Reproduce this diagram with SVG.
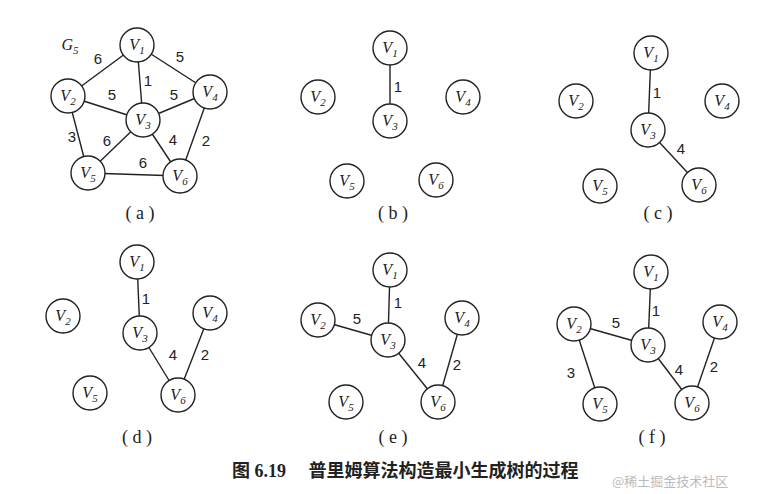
<svg xmlns="http://www.w3.org/2000/svg" width="765" height="494" viewBox="0 0 765 494">
<style>
.n{fill:#fff;stroke:#222;stroke-width:1.4}
.e{stroke:#222;stroke-width:1.4}
.t{font-family:"Liberation Serif",serif;font-style:italic;font-size:16px;fill:#222;text-anchor:middle}
.s{font-size:11px}
.w{font-family:"Liberation Sans",sans-serif;font-size:15px;fill:#222;text-anchor:middle}
.c{font-family:"Liberation Serif",serif;font-size:18px;fill:#222;text-anchor:middle}
.cap{font-family:"Liberation Serif","Noto Sans CJK SC",serif;font-size:18px;font-weight:bold;fill:#222}
</style>
<rect width="765" height="494" fill="#fff"/>
<defs><circle id="c" r="17" class="n"/></defs>
<g id="connectors">
<line class="e" x1="137" y1="45" x2="68" y2="96"/><line class="e" x1="137" y1="45" x2="210" y2="92"/>
<line class="e" x1="137" y1="45" x2="143" y2="120"/><line class="e" x1="68" y1="96" x2="143" y2="120"/>
<line class="e" x1="143" y1="120" x2="210" y2="92"/><line class="e" x1="68" y1="96" x2="88" y2="173"/>
<line class="e" x1="143" y1="120" x2="88" y2="173"/><line class="e" x1="143" y1="120" x2="180" y2="176"/>
<line class="e" x1="210" y1="92" x2="180" y2="176"/><line class="e" x1="88" y1="173" x2="180" y2="176"/>
<line class="e" x1="390" y1="48" x2="390" y2="121"/>
<line class="e" x1="651" y1="53" x2="648" y2="130"/><line class="e" x1="648" y1="130" x2="699" y2="185"/>
<line class="e" x1="137" y1="262" x2="140" y2="333"/><line class="e" x1="140" y1="333" x2="178" y2="395"/><line class="e" x1="210" y1="313" x2="178" y2="395"/>
<line class="e" x1="390" y1="270" x2="388" y2="340"/><line class="e" x1="318" y1="320" x2="388" y2="340"/><line class="e" x1="388" y1="340" x2="438" y2="402"/><line class="e" x1="462" y1="318" x2="438" y2="402"/>
<line class="e" x1="651" y1="272" x2="648" y2="345"/><line class="e" x1="574" y1="324" x2="648" y2="345"/><line class="e" x1="648" y1="345" x2="692" y2="403"/><line class="e" x1="720" y1="322" x2="692" y2="403"/><line class="e" x1="574" y1="324" x2="600" y2="404"/>
</g>
<g id="weights">
<text class="w" x="98" y="64">6</text><text class="w" x="180" y="62">5</text><text class="w" x="148" y="86">1</text>
<text class="w" x="112" y="100">5</text><text class="w" x="174" y="100">5</text><text class="w" x="72" y="142">3</text>
<text class="w" x="107" y="146">6</text><text class="w" x="173" y="145">4</text><text class="w" x="206" y="146">2</text><text class="w" x="143" y="168">6</text>
<text class="w" x="398" y="92">1</text>
<text class="w" x="657" y="98">1</text><text class="w" x="681" y="154">4</text>
<text class="w" x="146" y="304">1</text><text class="w" x="173" y="360">4</text><text class="w" x="205" y="360">2</text>
<text class="w" x="398" y="308">1</text><text class="w" x="357" y="324">5</text><text class="w" x="422" y="368">4</text><text class="w" x="457" y="370">2</text>
<text class="w" x="656" y="316">1</text><text class="w" x="616" y="328">5</text><text class="w" x="679" y="375">4</text><text class="w" x="714" y="372">2</text><text class="w" x="571" y="378">3</text>
</g>
<text class="t" x="70" y="50">G<tspan class="s" dy="4">5</tspan></text>
<g id="a">
<g id="a1"><use href="#c" x="137" y="45"/><text class="t" x="137" y="50">V<tspan class="s" dy="4">1</tspan></text></g>
<g id="a2"><use href="#c" x="68" y="96"/><text class="t" x="68" y="101">V<tspan class="s" dy="4">2</tspan></text></g>
<g id="a3"><use href="#c" x="143" y="120"/><text class="t" x="143" y="125">V<tspan class="s" dy="4">3</tspan></text></g>
<g id="a4"><use href="#c" x="210" y="92"/><text class="t" x="210" y="97">V<tspan class="s" dy="4">4</tspan></text></g>
<g id="a5"><use href="#c" x="88" y="173"/><text class="t" x="88" y="178">V<tspan class="s" dy="4">5</tspan></text></g>
<g id="a6"><use href="#c" x="180" y="176"/><text class="t" x="180" y="181">V<tspan class="s" dy="4">6</tspan></text></g>
<text class="c" x="140" y="219">( a )</text>
</g>
<g id="b">
<g id="b1"><use href="#c" x="390" y="48"/><text class="t" x="390" y="53">V<tspan class="s" dy="4">1</tspan></text></g>
<g id="b2"><use href="#c" x="318" y="97"/><text class="t" x="318" y="102">V<tspan class="s" dy="4">2</tspan></text></g>
<g id="b3"><use href="#c" x="390" y="121"/><text class="t" x="390" y="126">V<tspan class="s" dy="4">3</tspan></text></g>
<g id="b4"><use href="#c" x="463" y="97"/><text class="t" x="463" y="102">V<tspan class="s" dy="4">4</tspan></text></g>
<g id="b5"><use href="#c" x="347" y="181"/><text class="t" x="347" y="186">V<tspan class="s" dy="4">5</tspan></text></g>
<g id="b6"><use href="#c" x="436" y="180"/><text class="t" x="436" y="185">V<tspan class="s" dy="4">6</tspan></text></g>
<text class="c" x="393" y="219">( b )</text>
</g>
<g id="c_">
<g id="c1"><use href="#c" x="651" y="53"/><text class="t" x="651" y="58">V<tspan class="s" dy="4">1</tspan></text></g>
<g id="c2"><use href="#c" x="576" y="101"/><text class="t" x="576" y="106">V<tspan class="s" dy="4">2</tspan></text></g>
<g id="c3"><use href="#c" x="648" y="130"/><text class="t" x="648" y="135">V<tspan class="s" dy="4">3</tspan></text></g>
<g id="c4"><use href="#c" x="722" y="101"/><text class="t" x="722" y="106">V<tspan class="s" dy="4">4</tspan></text></g>
<g id="c5"><use href="#c" x="600" y="186"/><text class="t" x="600" y="191">V<tspan class="s" dy="4">5</tspan></text></g>
<g id="c6"><use href="#c" x="699" y="185"/><text class="t" x="699" y="190">V<tspan class="s" dy="4">6</tspan></text></g>
<text class="c" x="658" y="219">( c )</text>
</g>
<g id="d">
<g id="d1"><use href="#c" x="137" y="262"/><text class="t" x="137" y="267">V<tspan class="s" dy="4">1</tspan></text></g>
<g id="d2"><use href="#c" x="63" y="316"/><text class="t" x="63" y="321">V<tspan class="s" dy="4">2</tspan></text></g>
<g id="d3"><use href="#c" x="140" y="333"/><text class="t" x="140" y="338">V<tspan class="s" dy="4">3</tspan></text></g>
<g id="d4"><use href="#c" x="210" y="313"/><text class="t" x="210" y="318">V<tspan class="s" dy="4">4</tspan></text></g>
<g id="d5"><use href="#c" x="90" y="393"/><text class="t" x="90" y="398">V<tspan class="s" dy="4">5</tspan></text></g>
<g id="d6"><use href="#c" x="178" y="395"/><text class="t" x="178" y="400">V<tspan class="s" dy="4">6</tspan></text></g>
<text class="c" x="137" y="443">( d )</text>
</g>
<g id="e_">
<g id="e1"><use href="#c" x="390" y="270"/><text class="t" x="390" y="275">V<tspan class="s" dy="4">1</tspan></text></g>
<g id="e2"><use href="#c" x="318" y="320"/><text class="t" x="318" y="325">V<tspan class="s" dy="4">2</tspan></text></g>
<g id="e3"><use href="#c" x="388" y="340"/><text class="t" x="388" y="345">V<tspan class="s" dy="4">3</tspan></text></g>
<g id="e4"><use href="#c" x="462" y="318"/><text class="t" x="462" y="323">V<tspan class="s" dy="4">4</tspan></text></g>
<g id="e5"><use href="#c" x="346" y="402"/><text class="t" x="346" y="407">V<tspan class="s" dy="4">5</tspan></text></g>
<g id="e6"><use href="#c" x="438" y="402"/><text class="t" x="438" y="407">V<tspan class="s" dy="4">6</tspan></text></g>
<text class="c" x="393" y="443">( e )</text>
</g>
<g id="f">
<g id="f1"><use href="#c" x="651" y="272"/><text class="t" x="651" y="277">V<tspan class="s" dy="4">1</tspan></text></g>
<g id="f2"><use href="#c" x="574" y="324"/><text class="t" x="574" y="329">V<tspan class="s" dy="4">2</tspan></text></g>
<g id="f3"><use href="#c" x="648" y="345"/><text class="t" x="648" y="350">V<tspan class="s" dy="4">3</tspan></text></g>
<g id="f4"><use href="#c" x="720" y="322"/><text class="t" x="720" y="327">V<tspan class="s" dy="4">4</tspan></text></g>
<g id="f5"><use href="#c" x="600" y="404"/><text class="t" x="600" y="409">V<tspan class="s" dy="4">5</tspan></text></g>
<g id="f6"><use href="#c" x="692" y="403"/><text class="t" x="692" y="408">V<tspan class="s" dy="4">6</tspan></text></g>
<text class="c" x="652" y="443">( f )</text>
</g>
<text class="cap" x="232" y="477">图 6.19　 普里姆算法构造最小生成树的过程</text>
<text x="612" y="486" font-family="'Noto Sans CJK SC',sans-serif" font-size="13" fill="#bbb">@稀土掘金技术社区</text>
</svg>
